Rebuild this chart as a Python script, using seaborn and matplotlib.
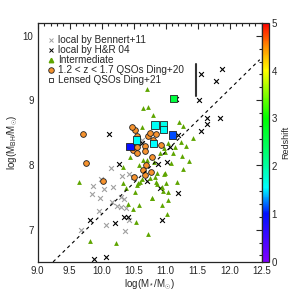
import numpy as np
import pandas as pd
import matplotlib
matplotlib.use('Agg')
import matplotlib.pyplot as plt
import matplotlib.colors as mcolors
from matplotlib.lines import Line2D
from matplotlib.ticker import MultipleLocator
import seaborn as sns

# local by Bennert+11 (grey crosses)
bennert_mstar = [10.147, 9.859, 9.989, 10.036, 9.853, 10.172, 9.978, 10.302, 10.322, 10.161,
                 10.234, 10.297, 10.348, 10.38, 10.067, 10.364, 10.422, 9.677, 9.958, 10.431,
                 10.484, 10.625]
bennert_mbh = [7.959, 7.676, 7.78, 7.63, 7.548, 7.656, 7.495, 7.51, 7.835, 7.433,
               7.371, 7.351, 7.475, 7.336, 7.073, 6.985, 7.155, 6.991, 7.294, 7.857,
               7.82, 8.388]

# local by H&R 04 (black crosses)
hr04_mstar = [11.547, 11.875, 11.786, 11.52, 11.65, 11.65, 11.85, 11.547, 11.16, 11.197,
              11.067, 10.884, 11.025, 10.911, 11.188, 10.947, 10.625, 10.703, 10.109, 10.275,
              10.348, 10.213, 9.817, 9.884, 10.067, 10.406]
hr04_mbh = [9.407, 9.484, 9.304, 9.005, 8.722, 8.634, 8.727, 8.531, 9.016, 8.464,
            8.283, 8.011, 8.042, 7.64, 7.573, 7.15, 8.336, 7.758, 8.48, 8.011,
            7.197, 7.104, 7.15, 6.543, 6.574, 7.2]

# Intermediate (green triangles)
inter_mstar = [10.703, 10.641, 10.719, 10.625, 10.509, 10.806, 11.213, 11.275, 11.422, 11.317,
               11.145, 11.239, 11.041, 10.973, 10.989, 11.119, 11.25, 10.911, 11.369, 11.266,
               10.989, 10.817, 10.703, 10.65, 10.833, 10.844, 10.755, 10.625, 10.598, 10.547,
               11.0, 11.172, 10.869, 10.52, 10.963, 11.031, 10.781, 11.078, 10.859, 10.973,
               10.947, 11.041, 10.791, 10.947, 11.016, 10.411, 10.588, 10.536, 10.719, 10.223,
               9.645, 9.817, 10.338, 10.442, 10.588, 10.572, 10.494, 10.375, 10.338]
inter_mbh = [9.171, 8.877, 8.902, 8.583, 8.299, 8.773, 8.661, 8.603, 8.413, 8.294,
             8.283, 8.361, 8.345, 8.259, 8.206, 8.181, 8.144, 8.181, 8.067, 7.939,
             7.872, 8.052, 8.078, 8.078, 7.82, 7.742, 7.795, 7.779, 7.743, 7.692,
             7.718, 7.743, 7.707, 7.588, 7.599, 7.46, 7.486, 8.027, 7.872, 7.866,
             7.656, 7.588, 7.495, 7.382, 7.239, 7.402, 7.382, 7.115, 6.934, 6.8,
             7.743, 6.831, 7.974, 8.129, 8.001, 7.718, 7.316, 7.65, 7.718]

# 1.2 < z < 1.7 QSOs Ding+20 (orange circles)
ding20_mstar = [9.703, 9.755, 10.028, 10.52, 10.473, 10.719, 10.755, 10.848, 10.8, 10.922,
                10.677, 10.677, 10.494, 10.556, 10.547, 10.781, 10.688, 10.65, 10.677, 10.77,
                10.505, 10.547]
ding20_mbh = [8.48, 8.027, 7.753, 8.542, 8.588, 8.45, 8.491, 8.48, 8.387, 8.31,
              8.294, 8.222, 8.232, 8.191, 8.283, 8.129, 8.001, 7.923, 7.846, 7.888,
              7.82, 8.449]

# Lensed QSOs Ding+21 (squares, colour = redshift)
lensed_mstar = [10.442, 11.109, 10.547, 10.833, 10.963, 10.963, 10.806, 11.12]
lensed_mbh = [8.283, 8.464, 8.388, 8.619, 8.619, 8.55, 8.334, 9.03]
lensed_z = [0.95, 1.15, 1.6, 1.6, 1.65, 1.6, 1.55, 2.6]

# error bar indicator and reference relation
bar_x = 11.48
bar_y = [9.06, 9.56]
rel_x = [9.24, 12.47]
rel_y = [6.5, 9.63]

redshift_cmap = mcolors.LinearSegmentedColormap.from_list(
    'redshift', [(0.0, '#8000ff'), (0.2, '#0010ff'), (0.31, '#00ffff'), (0.42, '#00ff90'),
                 (0.6, '#00ff00'), (0.8, '#ffff00'), (0.9, '#ff9000'), (1.0, '#ff0000')])

sns.set_style("white")
plt.rcParams['font.family'] = ['Liberation Sans', 'DejaVu Sans']
plt.rcParams['mathtext.fontset'] = 'custom'
plt.rcParams['mathtext.rm'] = 'Liberation Sans'
plt.rcParams['mathtext.it'] = 'Liberation Sans'

fig = plt.figure(figsize=(3, 3), dpi=100)
ax = fig.add_axes([0.1257, 0.127, 0.7466, 0.797])
cax = fig.add_axes([0.8723, 0.127, 0.026, 0.797])

ax.plot(rel_x, rel_y, color='black', linestyle=(0, (3, 3)), linewidth=0.8)
ax.plot([bar_x, bar_x], bar_y, color='#333333', linewidth=1.5)

sns.scatterplot(x=bennert_mstar, y=bennert_mbh, marker='x', color='#a0a0a0', s=12,
                linewidth=0.8, ax=ax, legend=False)
sns.scatterplot(x=hr04_mstar, y=hr04_mbh, marker='x', color='black', s=12,
                linewidth=0.8, ax=ax, legend=False)
sns.scatterplot(x=inter_mstar, y=inter_mbh, marker='^', color='#5ea500', s=12,
                linewidth=0, ax=ax, legend=False)
sns.scatterplot(x=ding20_mstar, y=ding20_mbh, marker='o', color='#f5922e', s=17,
                edgecolor='#222222', linewidth=0.6, ax=ax, legend=False)
lensed_df = pd.DataFrame({'mstar': lensed_mstar, 'mbh': lensed_mbh, 'z': lensed_z})
sns.scatterplot(data=lensed_df, x='mstar', y='mbh', hue='z', palette=redshift_cmap,
                hue_norm=(0, 5), marker='s', s=27, edgecolor='#222222', linewidth=0.6,
                ax=ax, legend=False)

ax.set_xlim(9.0, 12.5)
ax.set_ylim(6.5, 10.2)
ax.xaxis.set_major_locator(MultipleLocator(0.5))
ax.xaxis.set_minor_locator(MultipleLocator(0.1))
ax.yaxis.set_major_locator(MultipleLocator(1))
ax.yaxis.set_minor_locator(MultipleLocator(0.2))
ax.xaxis.set_major_formatter(matplotlib.ticker.FormatStrFormatter('%.1f'))
ax.tick_params(which='both', direction='in', top=True, right=True, labelsize=7,
               width=0.8, pad=3)
ax.tick_params(which='major', length=4)
ax.tick_params(which='minor', length=2)
for sp in ax.spines.values():
    sp.set_linewidth(0.9)
ax.set_xlabel(r'log(M$_*$/M$_{\odot}$)', fontsize=7, labelpad=1)
ax.set_ylabel(r'log(M$_{\rm BH}$/M$_{\odot}$)', fontsize=7, labelpad=2)

handles = [
    Line2D([], [], marker='x', color='#a0a0a0', linestyle='none', markersize=3, markeredgewidth=0.7),
    Line2D([], [], marker='x', color='black', linestyle='none', markersize=3, markeredgewidth=0.7),
    Line2D([], [], marker='^', color='#5ea500', linestyle='none', markersize=3.2),
    Line2D([], [], marker='o', markerfacecolor='#f5922e', markeredgecolor='#222222',
           linestyle='none', markersize=4, markeredgewidth=0.6),
    Line2D([], [], marker='s', markerfacecolor='white', markeredgecolor='#222222',
           linestyle='none', markersize=3.5, markeredgewidth=0.6),
]
labels = ['local by Bennert+11', 'local by H&R 04', 'Intermediate',
          '1.2 < z < 1.7 QSOs Ding+20', 'Lensed QSOs Ding+21']
ax.legend(handles, labels, loc='upper left', frameon=False, fontsize=7.2,
          handlelength=0.6, handletextpad=0.4, labelspacing=0.0,
          borderaxespad=0.6, bbox_to_anchor=(0.0, 0.99))

sm = plt.cm.ScalarMappable(cmap=redshift_cmap, norm=mcolors.Normalize(0, 5))
cb = fig.colorbar(sm, cax=cax)
cb.set_ticks([0, 1, 2, 3, 4, 5])
cb.ax.tick_params(labelsize=7, length=0, pad=1.5)
cb.outline.set_linewidth(0.9)
cb.set_label('Redshift', fontsize=6.5, labelpad=3)

fig.savefig('out.png', dpi=100)
